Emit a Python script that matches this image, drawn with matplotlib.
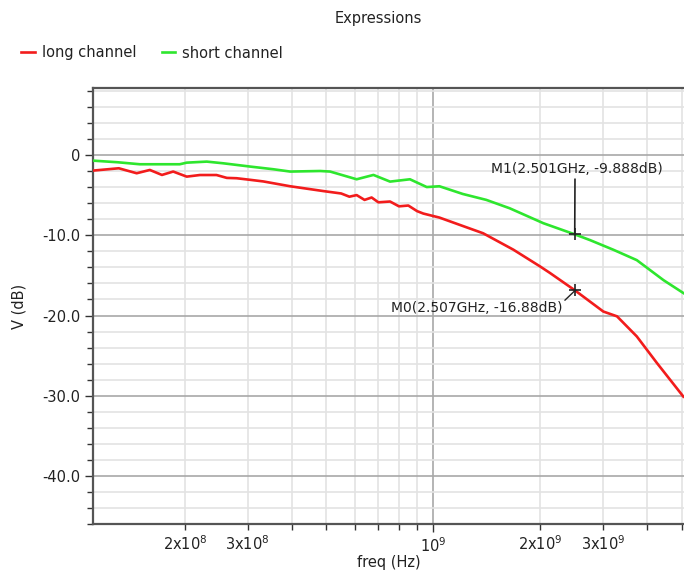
import matplotlib
matplotlib.use("Agg")
import matplotlib.pyplot as plt
from matplotlib.ticker import FixedLocator, FixedFormatter

plt.rcParams["font.family"] = ["DejaVu Sans"]
plt.rcParams["mathtext.fontset"] = "dejavusans"

# AC response, V (dB) versus frequency (Hz)
long_freq = [1.10e8, 1.30e8, 1.46e8, 1.59e8, 1.72e8, 1.85e8, 2.02e8, 2.20e8,
             2.45e8, 2.62e8, 2.79e8, 3.05e8, 3.32e8, 3.95e8, 4.90e8, 5.50e8,
             5.80e8, 6.08e8, 6.40e8, 6.70e8, 7.00e8, 7.55e8, 8.00e8, 8.50e8,
             9.00e8, 9.37e8, 1.04e9, 1.30e9, 1.38e9, 1.68e9, 2.00e9, 2.13e9,
             2.507e9, 3.01e9, 3.29e9, 3.74e9, 4.26e9, 5.06e9]
long_db = [-1.95, -1.66, -2.28, -1.87, -2.49, -2.07, -2.70, -2.50,
           -2.50, -2.86, -2.90, -3.10, -3.30, -3.90, -4.50, -4.80,
           -5.20, -5.00, -5.60, -5.30, -5.90, -5.80, -6.40, -6.30,
           -7.00, -7.30, -7.80, -9.34, -9.75, -11.8, -13.9, -14.7,
           -16.88, -19.5, -20.1, -22.6, -25.9, -30.1]

short_freq = [1.10e8, 1.29e8, 1.49e8, 1.93e8, 2.02e8, 2.30e8, 2.56e8, 3.05e8,
              3.54e8, 3.95e8, 4.80e8, 5.12e8, 6.08e8, 6.78e8, 7.55e8, 8.59e8,
              9.58e8, 1.04e9, 1.21e9, 1.41e9, 1.64e9, 2.04e9, 2.501e9, 2.76e9,
              3.21e9, 3.74e9, 4.45e9, 5.06e9]
short_db = [-0.71, -0.91, -1.16, -1.16, -0.96, -0.83, -1.04, -1.45,
            -1.78, -2.07, -2.00, -2.07, -3.03, -2.49, -3.32, -3.03,
            -4.00, -3.90, -4.86, -5.60, -6.64, -8.50, -9.888, -10.6,
            -11.8, -13.1, -15.6, -17.2]

# markers placed on the two traces
m0 = (2.507e9, -16.88)
m1 = (2.501e9, -9.888)

W, H = 684, 574
fig = plt.figure(figsize=(W / 100, H / 100), dpi=100)
left, right, top, bottom = 93.3, 684, 88.3, 524.3
ax = fig.add_axes([left / W, 1 - bottom / H, (right - left) / W, (bottom - top) / H])

ax.plot(long_freq, long_db, color="#f21c1c", lw=1.9, label="long channel", zorder=3)
ax.plot(short_freq, short_db, color="#2ee62e", lw=1.9, label="short channel", zorder=3)

ax.set_xscale("log")
ax.set_xlim(1.102e8, 5.08e9)
ax.set_ylim(-46.0, 8.3)

# ticks and grid
ax.xaxis.set_major_locator(FixedLocator([1e9]))
ax.xaxis.set_major_formatter(FixedFormatter([r"10$^{9}$"]))
minor_x = [k * 1e8 for k in range(2, 10)] + [k * 1e9 for k in range(2, 6)]
minor_lbl = ["" for _ in minor_x]
minor_lbl[0] = r"2x10$^{8}$"
minor_lbl[1] = r"3x10$^{8}$"
minor_lbl[8] = r"2x10$^{9}$"
minor_lbl[9] = r"3x10$^{9}$"
ax.xaxis.set_minor_locator(FixedLocator(minor_x))
ax.xaxis.set_minor_formatter(FixedFormatter(minor_lbl))

ax.yaxis.set_major_locator(FixedLocator([0, -10, -20, -30, -40]))
ax.yaxis.set_major_formatter(FixedFormatter(["0", "-10.0", "-20.0", "-30.0", "-40.0"]))
ax.yaxis.set_minor_locator(FixedLocator(list(range(-46, 9, 2))))

ax.tick_params(axis="both", which="both", direction="out", colors="#333333",
               labelcolor="#222222", labelsize=10.5, width=1.0)
ax.tick_params(axis="both", which="major", length=6)
ax.tick_params(axis="both", which="minor", length=4)
ax.tick_params(axis="x", which="both", pad=3)

ax.grid(True, which="minor", color="#e3e3e3", lw=1.2, zorder=0)
ax.grid(True, which="major", color="#a8a8a8", lw=1.2, zorder=1)

for s in ("left", "top", "bottom"):
    ax.spines[s].set_color("#555555")
    ax.spines[s].set_linewidth(1.6)
ax.spines["right"].set_visible(False)

ax.set_xlabel("freq (Hz)", fontsize=10.5, color="#222222", labelpad=0)
ax.set_ylabel("V (dB)", fontsize=10.5, color="#222222", labelpad=11)

# marker annotations
for (mx, my) in (m0, m1):
    ax.plot([mx], [my], marker="+", color="#222222", ms=9, mew=1.2, zorder=5)

ax.annotate("M1(%.3fGHz, %.3fdB)" % (m1[0] / 1e9, m1[1]), xy=m1,
            xytext=(2, 58), textcoords="offset pixels", ha="center", va="bottom",
            fontsize=10, color="#222222",
            arrowprops=dict(arrowstyle="-", color="#222222", lw=1.2,
                            shrinkA=0, shrinkB=0, relpos=(0.49, 0.2)))
ax.annotate("M0(%.3fGHz, %.2fdB)" % (m0[0] / 1e9, m0[1]), xy=m0,
            xytext=(-13, -18), textcoords="offset pixels", ha="right", va="center",
            fontsize=10, color="#222222",
            arrowprops=dict(arrowstyle="-", color="#222222", lw=1.0,
                            shrinkA=0, shrinkB=0, relpos=(1.0, 0.9)))

fig.text(378 / W, 1 - 18 / H, "Expressions", ha="center", va="center",
         fontsize=10.5, color="#222222")
fig.legend(loc="center left", bbox_to_anchor=(8 / W, 1 - 53 / H), ncol=2,
           frameon=False, fontsize=10.5, handlelength=0.95, handletextpad=0.45,
           columnspacing=1.75, labelcolor="#222222")

fig.savefig("out.png", dpi=100)
